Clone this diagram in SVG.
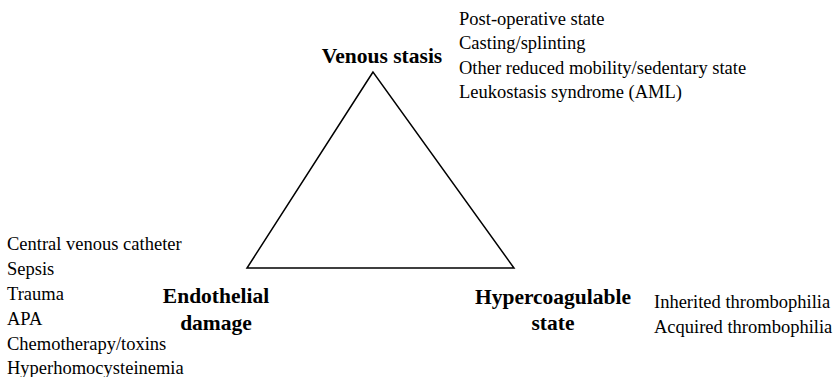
<svg xmlns="http://www.w3.org/2000/svg" width="838" height="377" viewBox="0 0 838 377">
<style>
.t{font-family:"Liberation Serif","Times New Roman",serif;font-size:18.5px;fill:#000}
.b{font-family:"Liberation Serif","Times New Roman",serif;font-size:21.5px;font-weight:bold;fill:#000;text-anchor:middle}
</style>
<rect width="838" height="377" fill="#fff"/>
<g id="connectors">
<polygon points="373,72 247,268 514,268" fill="none" stroke="#000" stroke-width="1.5"/>
</g>
<g id="venous">
<text class="b" x="382" y="63">Venous stasis</text>
<text class="t" x="459" y="25">Post-operative state</text>
<text class="t" x="459" y="49">Casting/splinting</text>
<text class="t" x="459" y="74">Other reduced mobility/sedentary state</text>
<text class="t" x="459" y="98">Leukostasis syndrome (AML)</text>
</g>
<g id="endothelial">
<text class="b" x="216" y="303">Endothelial</text>
<text class="b" x="216" y="330">damage</text>
<text class="t" x="7" y="250">Central venous catheter</text>
<text class="t" x="7" y="275">Sepsis</text>
<text class="t" x="7" y="300">Trauma</text>
<text class="t" x="7" y="325">APA</text>
<text class="t" x="7" y="350">Chemotherapy/toxins</text>
<text class="t" x="7" y="374">Hyperhomocysteinemia</text>
</g>
<g id="hyper">
<text class="b" x="553" y="304">Hypercoagulable</text>
<text class="b" x="553" y="330">state</text>
<text class="t" x="654" y="308">Inherited thrombophilia</text>
<text class="t" x="654" y="333">Acquired thrombophilia</text>
</g>
</svg>
